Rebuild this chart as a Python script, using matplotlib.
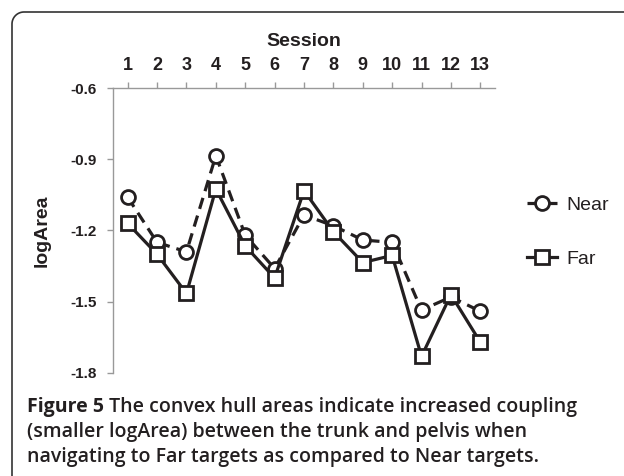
import matplotlib
matplotlib.use('Agg')
import matplotlib.pyplot as plt
from matplotlib.lines import Line2D
import numpy as np

# dados
sessoes = [1, 2, 3, 4, 5, 6, 7, 8, 9, 10, 11, 12, 13]
near = [-1.06, -1.25, -1.29, -0.885, -1.22, -1.36, -1.135, -1.18, -1.24, -1.25, -1.535, -1.48, -1.54]
far = [-1.17, -1.30, -1.465, -1.025, -1.265, -1.40, -1.032, -1.205, -1.335, -1.305, -1.73, -1.47, -1.67]
yticks = [-0.6, -0.9, -1.2, -1.5, -1.8]

cor = '#231f20'
cinza = '#999999'
W, H = 624, 476

plt.rcParams['font.family'] = ['Liberation Sans', 'DejaVu Sans']

fig = plt.figure(figsize=(W / 100, H / 100), dpi=100)
fig.patch.set_facecolor('white')

ax = fig.add_axes([113 / W, 1 - 373 / H, (495 - 113) / W, (373 - 88) / H])

ax.plot(sessoes, near, color=cor, linestyle=(0, (3.6, 2.2)), linewidth=2.3,
        marker='o', markersize=10, markerfacecolor='white', markeredgecolor=cor,
        markeredgewidth=2, label='Near', zorder=3)
ax.plot(sessoes, far, color=cor, linestyle='-', linewidth=2.3,
        marker='s', markersize=10, markerfacecolor='white', markeredgecolor=cor,
        markeredgewidth=2, label='Far', zorder=3)

ax.set_xlim(0.5, 13.5)
ax.set_ylim(-1.8, -0.6)
ax.set_xticks(sessoes)
ax.set_yticks(yticks)
ax.set_yticklabels([f'{v:.1f}' for v in yticks], fontsize=11, fontweight='bold')
ax.xaxis.tick_top()
ax.xaxis.set_label_position('top')
ax.set_xticklabels([str(s) for s in sessoes], fontsize=13, fontweight='bold')
ax.tick_params(axis='x', direction='out', length=4, width=1, color=cinza, pad=6, labelcolor=cor)
ax.tick_params(axis='y', direction='out', length=4, width=1, color=cinza, pad=8, labelcolor=cor)

for lado in ['right', 'bottom']:
    ax.spines[lado].set_visible(False)
for lado in ['left', 'top']:
    ax.spines[lado].set_color(cinza)
    ax.spines[lado].set_linewidth(1)

ax.set_xlabel('Session', fontsize=14, fontweight='bold', color=cor, labelpad=8)
ax.set_ylabel('logArea', fontsize=14, fontweight='bold', color=cor, labelpad=14)

ax.legend(loc='center left', bbox_to_anchor=(527 / W, 1 - 232 / H),
          bbox_transform=fig.transFigure, frameon=False, fontsize=14,
          handlelength=1.55, handletextpad=0.45, labelspacing=1.9, borderpad=0,
          borderaxespad=0, labelcolor=cor)

# moldura: lado esquerdo + topo com canto arredondado (em pixels -> fração da figura)
r = 12
ang = np.linspace(np.pi, np.pi / 2, 20)
px = np.concatenate([[12], 12 + r + r * np.cos(ang), [W + 5]])
py = np.concatenate([[H + 5], 12 + r - r * np.sin(ang), [12]])
fig.add_artist(Line2D(px / W, 1 - py / H, transform=fig.transFigure,
                      color='#333333', linewidth=1.2))

# legenda da figura
fs = 14
fam = ['Open Sans', 'DejaVu Sans']
t1 = fig.text(27 / W, 1 - 407 / H, 'Figure 5', fontsize=fs, fontweight='bold',
              family=fam, color=cor, va='center')
ax.annotate(' The convex hull areas indicate increased coupling', xy=(1, 0), xycoords=t1,
            ha='left', va='bottom', fontsize=fs, fontweight='semibold',
            family=fam, color=cor, annotation_clip=False)
fig.text(27 / W, 1 - 432 / H, '(smaller logArea) between the trunk and pelvis when',
         fontsize=fs, fontweight='semibold', family=fam, color=cor, va='center')
fig.text(27 / W, 1 - 457 / H, 'navigating to Far targets as compared to Near targets.',
         fontsize=fs, fontweight='semibold', family=fam, color=cor, va='center')

plt.savefig('out.png', dpi=100)
